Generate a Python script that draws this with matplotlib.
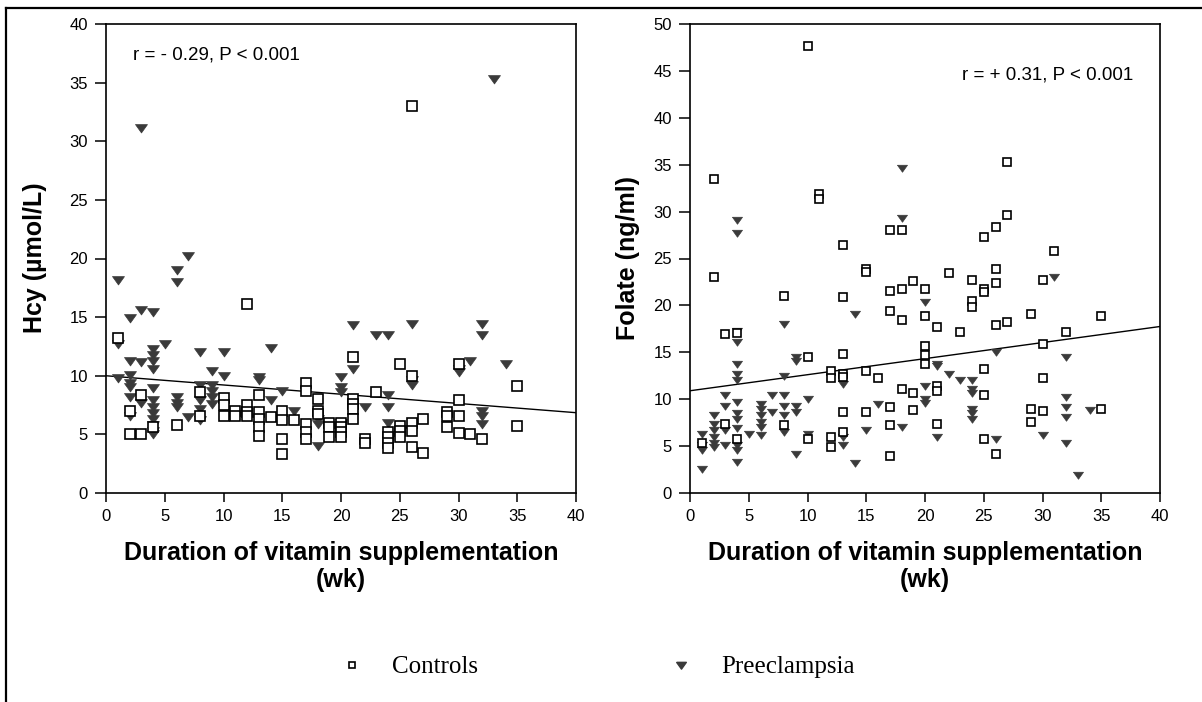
import numpy as np
import matplotlib
matplotlib.use('Agg')
import matplotlib.pyplot as plt
from matplotlib.lines import Line2D

# data: (weeks of supplementation, value)
hcy_controls = [
    (1, 13.2), (2, 7.0), (2, 5.0), (3, 8.4), (3, 5.0), (4, 5.6), (6, 5.8), (8, 8.6), (8, 6.6),
    (10, 8.1), (10, 7.5), (10, 6.6), (11, 7.0), (11, 6.6), (12, 16.1), (12, 7.5), (12, 6.9), (12, 6.6),
    (13, 8.4), (13, 6.9), (13, 6.3), (13, 5.6), (13, 4.9), (14, 6.5), (15, 7.0), (15, 6.2), (15, 4.6),
    (15, 3.3), (16, 6.2), (17, 9.4), (17, 8.7), (17, 5.9), (17, 5.2), (17, 4.6), (18, 8.0), (18, 7.0),
    (18, 6.7), (19, 6.0), (19, 5.6), (19, 4.75), (20, 6.0), (20, 5.6), (20, 5.2), (20, 4.75), (21, 11.6),
    (21, 8.0), (21, 7.6), (21, 7.2), (21, 6.3), (22, 4.6), (22, 4.3), (23, 8.6), (24, 5.2), (24, 4.75),
    (24, 4.3), (24, 3.8), (25, 11.0), (25, 5.75), (25, 5.3), (25, 4.75), (26, 33.0), (26, 10.0),
    (26, 6.0), (26, 5.3), (26, 3.9), (27, 6.3), (27, 3.4), (29, 6.9), (29, 6.6), (29, 5.6), (30, 11.0),
    (30, 7.9), (30, 6.6), (30, 5.1), (31, 5.0), (32, 4.6), (35, 9.1), (35, 5.7),
]
hcy_preeclampsia = [
    (1, 18.2), (1, 12.7), (1, 9.8), (2, 14.9), (2, 11.3), (2, 10.1), (2, 9.4), (2, 9.0), (2, 8.2),
    (2, 6.6), (3, 31.1), (3, 15.6), (3, 11.2), (3, 7.7), (4, 15.4), (4, 12.3), (4, 11.8), (4, 11.3),
    (4, 10.6), (4, 8.95), (4, 7.9), (4, 7.3), (4, 6.8), (4, 6.3), (4, 5.8), (4, 5.3), (4, 5.0),
    (5, 12.7), (6, 19.0), (6, 18.0), (6, 8.2), (6, 7.7), (6, 7.3), (7, 20.2), (7, 6.5), (8, 12.0),
    (8, 9.2), (8, 7.9), (8, 7.2), (8, 6.2), (9, 10.4), (9, 9.2), (9, 8.7), (9, 8.2), (9, 7.6),
    (10, 12.0), (10, 10.0), (13, 9.9), (13, 9.6), (14, 12.4), (14, 7.9), (15, 8.7), (16, 7.0),
    (18, 6.3), (18, 5.9), (18, 4.05), (20, 9.9), (20, 9.0), (20, 8.6), (20, 6.0), (21, 14.3),
    (21, 10.6), (22, 7.3), (23, 13.5), (24, 13.5), (24, 8.4), (24, 7.3), (24, 5.95), (26, 14.4),
    (26, 9.6), (26, 9.2), (30, 10.6), (30, 10.3), (31, 11.3), (32, 14.4), (32, 13.5), (32, 7.0),
    (32, 6.6), (32, 5.9), (33, 35.3), (34, 11.0),
]
folate_controls = [
    (10, 47.7), (2, 33.5), (11, 31.9), (11, 31.3), (2, 23.0), (8, 21.0), (13, 26.4), (13, 20.9),
    (15, 23.9), (15, 23.6), (17, 28.0), (18, 28.0), (27, 35.25), (27, 29.6), (26, 28.4), (25, 27.3),
    (31, 25.8), (30, 22.75), (26, 23.9), (26, 22.4), (24, 22.75), (25, 21.8), (25, 21.4), (22, 23.5),
    (19, 22.6), (20, 21.8), (17, 21.5), (18, 21.7), (24, 20.5), (24, 19.8), (17, 19.4), (18, 18.4),
    (20, 18.9), (21, 17.7), (23, 17.2), (26, 17.9), (27, 18.2), (29, 19.1), (35, 18.9), (32, 17.2),
    (30, 15.9), (20, 15.7), (20, 14.75), (20, 13.75), (25, 13.2), (30, 12.3), (18, 11.1), (19, 10.7),
    (21, 11.4), (21, 10.9), (16, 12.3), (15, 13.0), (12, 13.0), (12, 12.3), (13, 12.7), (13, 12.4),
    (13, 14.8), (10, 14.5), (4, 17.1), (3, 17.0), (25, 10.4), (1, 5.3), (3, 7.4), (4, 5.8), (8, 7.2),
    (10, 5.8), (12, 6.0), (12, 4.9), (13, 8.6), (13, 6.5), (15, 8.6), (17, 9.2), (17, 7.2), (17, 3.9),
    (19, 8.9), (21, 7.4), (25, 5.8), (26, 4.2), (29, 9.0), (29, 7.6), (30, 8.7), (35, 9.0),
]
folate_preeclampsia = [
    (4, 29.1), (4, 27.7), (18, 34.6), (18, 29.3), (31, 23.0), (20, 20.4), (14, 19.1), (8, 18.0),
    (4, 17.3), (4, 16.1), (32, 14.5), (26, 15.0), (21, 13.75), (22, 12.7), (23, 12.1), (24, 12.0),
    (24, 11.1), (20, 11.4), (13, 11.6), (9, 14.5), (9, 14.1), (8, 12.5), (4, 13.75), (4, 12.7),
    (4, 12.0), (21, 13.5), (24, 10.7), (1, 2.6), (1, 6.3), (1, 5.1), (1, 4.6), (2, 8.3), (2, 7.4),
    (2, 6.7), (2, 6.0), (2, 5.3), (2, 4.9), (3, 10.4), (3, 9.3), (3, 6.7), (3, 5.1), (4, 9.7),
    (4, 8.5), (4, 7.9), (4, 6.9), (4, 5.1), (4, 4.6), (4, 3.3), (5, 6.3), (6, 9.5), (6, 9.0),
    (6, 8.3), (6, 7.6), (6, 7.0), (6, 6.2), (7, 10.4), (7, 8.6), (8, 10.4), (8, 9.3), (8, 8.3),
    (8, 6.5), (9, 9.3), (9, 8.6), (9, 4.2), (10, 10.0), (10, 6.3), (13, 6.0), (13, 5.1), (14, 3.2),
    (15, 6.7), (16, 9.5), (18, 7.0), (20, 10.0), (20, 9.6), (21, 6.0), (24, 9.0), (24, 8.5),
    (24, 7.9), (26, 5.8), (30, 6.2), (32, 10.2), (32, 9.2), (32, 8.1), (32, 5.3), (33, 1.9), (34, 8.9),
]

# regression lines (end points)
fit_wk = [0, 40]
hcy_fit = [10.0, 6.85]
folate_fit = [10.9, 17.75]

W, H = 1202, 702
fig = plt.figure(figsize=(W / 100, H / 100), dpi=100)
fig.patch.set_facecolor('white')

tick_font = ['Liberation Sans Narrow', 'Liberation Sans', 'DejaVu Sans']
label_font = ['Liberation Sans', 'DejaVu Sans']

tri = [(-1, 0.65), (1, 0.65), (0, -0.75), (-1, 0.65)]
tri_color = '#3a3a3a'


def make_axes(left, ymax, ystep):
    ax = fig.add_axes([left / W, 1 - 493 / H, 470 / W, 469 / H])
    ax.set_xlim(0, 40)
    ax.set_ylim(0, ymax)
    ax.set_xticks(np.arange(0, 41, 5))
    ax.set_yticks(np.arange(0, ymax + 1, ystep))
    for s in ax.spines.values():
        s.set_linewidth(1.2)
    ax.tick_params(axis='y', direction='out', length=8, width=1.1, pad=5)
    ax.tick_params(axis='x', direction='out', length=6.5, width=1.1, pad=5)
    for lab in ax.get_xticklabels() + ax.get_yticklabels():
        lab.set_family(tick_font)
        lab.set_fontsize(12)
    return ax


def draw(ax, controls, pre, fit, sq_size, tri_size):
    p = np.array(pre)
    c = np.array(controls)
    ax.plot(fit_wk, fit, color='black', lw=1.0, zorder=2)
    ax.plot(p[:, 0], p[:, 1], ls='none', marker=tri, ms=tri_size, mfc=tri_color,
            mec=tri_color, mew=0.5, zorder=3)
    ax.plot(c[:, 0], c[:, 1], ls='none', marker='s', ms=sq_size, mfc='white',
            mec='black', mew=1.2, zorder=4)


axL = make_axes(106, 40, 5)
draw(axL, hcy_controls, hcy_preeclampsia, hcy_fit, 7.0, 8.6)
axL.text(0.057, 0.934, 'r = - 0.29, P < 0.001', transform=axL.transAxes,
         ha='left', va='center', fontsize=13.5, family=label_font)

axR = make_axes(690, 50, 5)
draw(axR, folate_controls, folate_preeclampsia, folate_fit, 5.3, 7.2)
axR.text(0.943, 0.891, 'r = + 0.31, P < 0.001', transform=axR.transAxes,
         ha='right', va='center', fontsize=13.5, family=label_font)

for ax in (axL, axR):
    ax.set_xlabel('Duration of vitamin supplementation\n(wk)', fontsize=18,
                  fontweight='bold', family=label_font, linespacing=1.15)
    ax.xaxis.set_label_coords(0.5, (493 - 541) / 469)

fig.text(35 / W, 1 - 258 / H, 'Hcy (µmol/L)', rotation=90, ha='center', va='center',
         fontsize=18, fontweight='bold', family=label_font)
fig.text(628 / W, 1 - 258 / H, 'Folate (ng/ml)', rotation=90, ha='center', va='center',
         fontsize=18, fontweight='bold', family=label_font)

# legend below the panels
handles = [
    Line2D([], [], ls='none', marker='s', ms=5, mfc='white', mec='black', mew=1.2),
    Line2D([], [], ls='none', marker=tri, ms=7, mfc=tri_color, mec=tri_color),
]
fig.legend(handles, ['Controls', 'Preeclampsia'], loc='center', ncol=2,
           bbox_to_anchor=(597 / W, 1 - 667 / H), frameon=False,
           prop={'family': ['Liberation Serif', 'DejaVu Serif'], 'size': 18},
           handlelength=1.0, handletextpad=1.1, columnspacing=7.6)

# frame lines round the picture (top and left visible)
fig.add_artist(Line2D([6 / W, 1], [1 - 8 / H, 1 - 8 / H], color='black', lw=1.6,
                      transform=fig.transFigure))
fig.add_artist(Line2D([6 / W, 6 / W], [0, 1 - 8 / H], color='black', lw=1.6,
                      transform=fig.transFigure))

fig.savefig('out.png', dpi=100)
